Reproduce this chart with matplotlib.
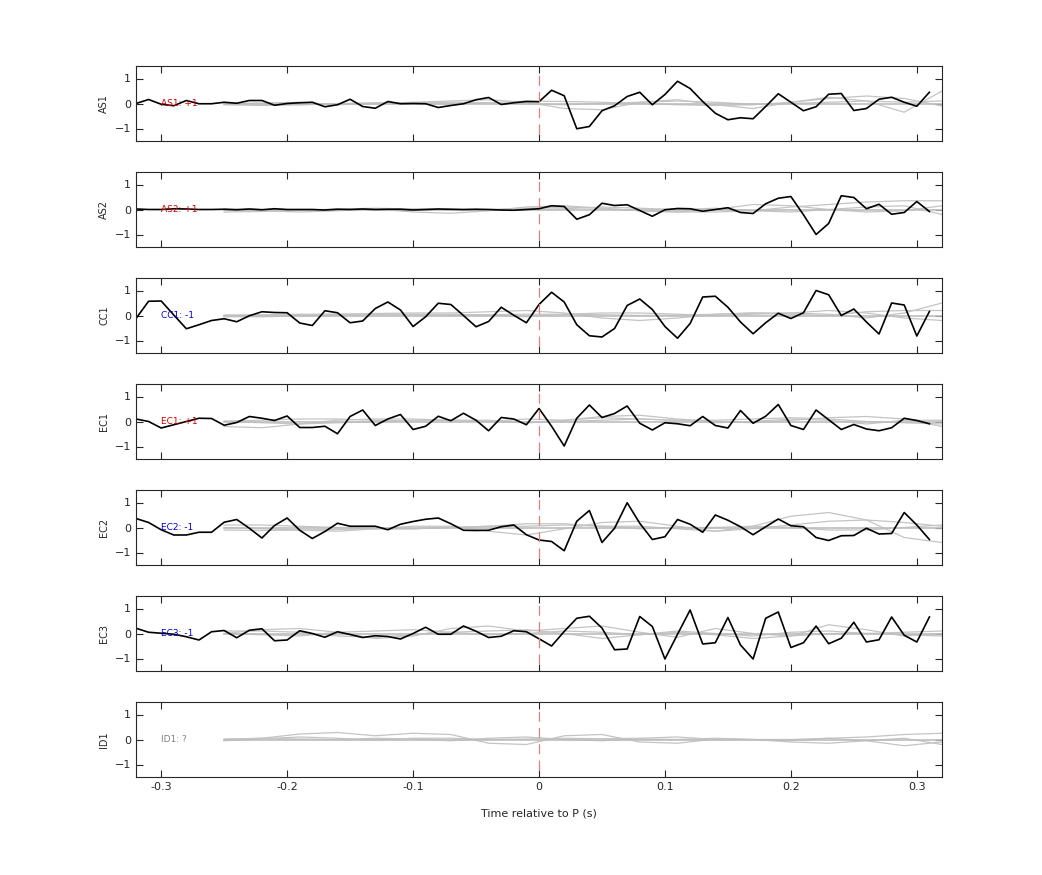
import numpy as np
import matplotlib
matplotlib.use("Agg")
import matplotlib.pyplot as plt

stations = ["AS1", "AS2", "CC1", "EC1", "EC2", "EC3", "ID1"]
polarity = ["AS1: +1", "AS2: +1", "CC1: -1", "EC1: +1", "EC2: -1", "EC3: -1", "ID1: ?"]
pol_colors = ["#d00000", "#d00000", "#0000d0", "#d00000", "#0000d0", "#0000d0", "#808080"]

t_start = -0.32
dt = 0.01

AS1 = [0, 0.16, -0.03, -0.09, 0.12, -0.01, -0.01, 0.05, 0.01, 0.12, 0.12, -0.07, 0, 0.03, 0.05, -0.13,
       -0.05, 0.17, -0.12, -0.19, 0.08, -0.01, 0, -0.01, -0.16, -0.08, -0.01, 0.15, 0.24, -0.04, 0.03, 0.08, 0.07,
       0.53, 0.31, -1.01, -0.92, -0.29, -0.09, 0.28, 0.45, -0.05, 0.36, 0.89, 0.6, 0.08, -0.39, -0.65, -0.57,
       -0.61, -0.12, 0.39, 0.05, -0.29, -0.13, 0.37, 0.4, -0.28, -0.2, 0.17, 0.25, 0.05, -0.11, 0.45]
AS2 = [0.02, 0, 0, 0.03, 0.02, 0, 0, 0.01, -0.01, 0.02, -0.01, 0.03, 0, 0, 0, -0.02, 0.01, 0, 0.02, 0,
       0.01, 0.01, -0.02, 0, 0.02, 0.01, 0, 0.01, 0, -0.02, -0.03, 0, 0.03,
       0.15, 0.12, -0.39, -0.21, 0.25, 0.16, 0.19, -0.04, -0.27, -0.01, 0.04, 0.03, -0.07, 0, 0.07, -0.12,
       -0.16, 0.23, 0.45, 0.52, -0.21, -1.0, -0.56, 0.55, 0.48, 0.03, 0.21, -0.19, -0.12, 0.32, -0.08]
CC1 = [-0.12, 0.57, 0.58, 0.02, -0.53, -0.37, -0.2, -0.13, -0.25, -0.01, 0.15, 0.12, 0.11, -0.3, -0.4, 0.19,
       0.11, -0.29, -0.22, 0.28, 0.54, 0.22, -0.44, -0.05, 0.49, 0.44, 0, -0.45, -0.24, 0.33, 0.01, -0.29,
       0.44, 0.93, 0.54, -0.37, -0.81, -0.86, -0.52, 0.4, 0.66, 0.24, -0.44, -0.91, -0.32, 0.74, 0.77, 0.33,
       -0.26, -0.73, -0.29, 0.09, -0.12, 0.11, 1.0, 0.83, 0, 0.26, -0.26, -0.74, 0.5, 0.42, -0.82, 0.16]
EC1 = [0.1, 0, -0.26, -0.13, 0, 0.13, 0.12, -0.15, -0.04, 0.2, 0.13, 0.04, 0.22, -0.24, -0.24, -0.19,
       -0.49, 0.2, 0.46, -0.16, 0.1, 0.28, -0.32, -0.19, 0.21, 0.03, 0.33, 0.05, -0.37, 0.16, 0.1, -0.13,
       0.52, -0.19, -0.98, 0.13, 0.66, 0.16, 0.32, 0.62, -0.07, -0.34, -0.05, -0.09, -0.17, 0.2, -0.16, -0.26,
       0.44, -0.07, 0.21, 0.68, -0.16, -0.32, 0.46, 0.07, -0.32, -0.12, -0.3, -0.37, -0.25, 0.13, 0.04, -0.09]
EC2 = [0.36, 0.2, -0.09, -0.3, -0.3, -0.19, -0.19, 0.21, 0.32, -0.03, -0.42, 0.08, 0.38, -0.11, -0.44, -0.16,
       0.17, 0.05, 0.05, 0.05, -0.09, 0.13, 0.24, 0.33, 0.38, 0.15, -0.11, -0.12, -0.11, 0.03, 0.1, -0.29,
       -0.5, -0.56, -0.93, 0.25, 0.68, -0.6, -0.03, 0.99, 0.17, -0.48, -0.37, 0.32, 0.13, -0.19, 0.5, 0.29,
       0.03, -0.29, 0.03, 0.34, 0.07, 0.03, -0.4, -0.52, -0.33, -0.32, -0.03, -0.26, -0.24, 0.6, 0.1, -0.48]
EC3 = [0.21, 0.05, 0.01, -0.03, -0.13, -0.26, 0.07, 0.12, -0.17, 0.13, 0.19, -0.29, -0.26, 0.11, 0, -0.15,
       0.07, -0.04, -0.16, -0.09, -0.12, -0.22, 0, 0.25, -0.03, -0.03, 0.3, 0.09, -0.16, -0.11, 0.11, 0.07,
       -0.21, -0.5, 0.08, 0.61, 0.69, 0.22, -0.65, -0.62, 0.68, 0.28, -1.02, -0.03, 0.94, -0.42, -0.37, 0.64,
       -0.46, -1.02, 0.61, 0.86, -0.56, -0.37, 0.3, -0.41, -0.19, 0.45, -0.34, -0.25, 0.66, -0.07, -0.34, 0.66]
black_traces = [AS1, AS2, CC1, EC1, EC2, EC3, None]

# grey (template) traces, sampled every 0.03 s from -0.25 s
g_start = -0.25
g_dt = 0.03
grey_traces = [
    [[0, 0.02, 0.05, -0.05, 0, 0.05, 0.1, 0.15, 0.05, -0.2, -0.25, 0.05, 0.15, -0.05, -0.2, 0.05, 0.25, 0.1, -0.35, 0.5],
     [0, -0.03, -0.05, -0.02, 0, 0.03, 0.05, 0.03, -0.02, -0.05, 0, 0.05, 0.1, 0.05, -0.03, 0, 0.05, 0.1, 0.05, 0.1],
     [-0.05, -0.08, -0.05, 0, 0.03, 0, -0.02, 0.02, 0.1, 0.08, 0.05, 0, -0.05, -0.08, -0.05, 0.05, 0.2, 0.3, 0.2, -0.1]],
    [[0, -0.05, -0.1, -0.05, 0.02, -0.1, -0.15, -0.05, 0.1, 0.15, 0.05, -0.05, -0.1, -0.1, -0.05, 0.1, 0.2, 0.3, 0.35, 0.35],
     [-0.1, -0.08, -0.03, 0.02, 0.05, 0.02, -0.03, 0, 0.05, 0.1, 0.05, -0.05, -0.1, 0, 0.2, 0.15, 0, -0.1, -0.05, 0.15],
     [0.02, 0, -0.02, 0, 0.02, 0.03, 0, -0.02, 0, 0.03, 0.1, 0.05, 0, 0.05, -0.05, -0.1, 0, 0.1, 0.15, -0.2]],
    [[0, 0.02, 0.05, 0.05, 0.08, 0.1, 0.1, 0.15, 0.2, 0.1, -0.1, -0.2, -0.1, 0.05, 0.1, 0.1, 0.05, -0.1, 0.1, 0.5],
     [-0.05, -0.05, -0.02, 0, 0.02, 0.05, 0.05, 0.02, -0.05, 0.05, 0.1, 0.1, 0.05, 0, 0.05, 0.1, 0.2, 0.1, -0.1, -0.2],
     [0.02, 0.02, 0.03, 0.05, 0.05, 0.03, 0, 0.03, 0.05, 0.05, 0.03, 0, 0.02, 0.05, 0.1, 0.05, 0, 0.15, 0.2, 0.2]],
    [[-0.2, -0.25, -0.1, 0.05, 0.1, 0.1, 0.05, 0, 0.1, 0.05, 0.2, 0.25, 0.1, 0, -0.05, 0.05, 0.15, 0.2, 0.1, -0.2],
     [0.02, 0.05, 0.1, 0.1, 0.05, 0.02, 0.05, 0.05, -0.05, 0.05, 0.15, 0.1, 0.05, 0.05, 0.1, 0.15, 0.1, 0, -0.05, -0.1],
     [0, -0.05, -0.1, -0.05, 0, 0.05, 0.05, 0, -0.05, 0, 0.05, 0.1, 0.05, -0.05, 0, 0.1, 0.05, -0.1, 0.05, 0.05]],
    [[0, -0.05, -0.1, -0.15, -0.05, 0.05, 0.05, -0.15, -0.3, -0.05, 0.2, 0.25, 0.05, -0.15, 0.05, 0.45, 0.6, 0.3, -0.4, -0.6],
     [-0.1, -0.12, -0.1, -0.08, -0.05, -0.05, 0, 0.05, 0.15, 0.15, 0.05, 0.05, -0.05, -0.15, -0.05, 0.1, 0.25, 0.3, 0.2, 0.05],
     [0.1, 0.1, 0.05, 0, -0.05, -0.05, 0, 0.05, 0.05, 0.1, 0.05, -0.05, 0, 0, 0.05, 0, -0.1, -0.1, 0, 0.1]],
    [[0, 0.15, 0.2, 0.05, -0.2, -0.1, 0.2, 0.3, 0.1, 0.2, 0.3, 0.05, -0.15, 0.2, 0, -0.1, 0.35, 0.15, -0.1, 0],
     [0, -0.05, -0.1, 0.05, 0.1, 0.15, 0.05, -0.05, 0, 0.1, 0.05, -0.05, 0.1, 0, -0.1, 0.05, 0.1, 0, -0.05, -0.1],
     [0.1, 0.1, 0.05, -0.1, -0.15, -0.05, 0.05, 0.1, 0.15, 0, -0.2, -0.05, 0.05, -0.05, -0.2, -0.1, 0, 0, 0.05, 0.1]],
    [[0, 0.05, 0.22, 0.28, 0.15, 0.25, 0.2, -0.15, -0.2, 0.15, 0.2, -0.1, -0.15, 0.02, 0, -0.1, -0.15, -0.05, 0.05, -0.2],
     [-0.05, 0.03, 0.1, 0.05, -0.02, 0.05, 0.05, 0, 0.02, 0.05, 0.03, 0.05, 0.1, 0, 0, -0.05, 0.05, -0.05, -0.25, -0.1],
     [0.02, 0.05, 0.02, 0, 0.05, 0.02, -0.05, 0.05, 0.1, 0, -0.05, 0.02, 0, 0.05, 0, 0, 0.05, 0.1, 0.2, 0.25]],
]

fig = plt.figure(figsize=(10.42, 8.75), dpi=100)
W, H = 1042, 875
left, right = 136 / W, 942 / W
tops = [66, 172, 278, 384, 490, 596, 702]
ph = 75
txt = "#262626"
for i, st in enumerate(stations):
    ax = fig.add_axes([left, 1 - (tops[i] + ph) / H, right - left, ph / H])
    for g in grey_traces[i]:
        tg = g_start + g_dt * np.arange(len(g))
        ax.plot(tg, g, color="#c4c4c4", lw=0.9)
    tz = g_start + g_dt * np.arange(20)
    ax.plot(tz, np.zeros_like(tz), color="#bdbdbd", lw=1.2)
    if black_traces[i] is not None:
        b = black_traces[i]
        tb = t_start + dt * np.arange(len(b))
        ax.plot(tb, b, color="black", lw=1.2)
    ax.axvline(0, ymin=0.1, ymax=0.95, color="#e08080", lw=0.9, ls=(0, (8, 5)))
    ax.text(-0.3, 0, polarity[i], color=pol_colors[i], fontsize=6.5, va="center", ha="left")
    ax.set_xlim(-0.32, 0.32)
    ax.set_ylim(-1.5, 1.5)
    ax.set_yticks([-1, 0, 1])
    ax.set_xticks([-0.3, -0.2, -0.1, 0, 0.1, 0.2, 0.3])
    ax.tick_params(direction="in", top=True, right=True, labelsize=8, colors=txt, length=5)
    ax.set_ylabel(st, fontsize=7, color=txt, labelpad=4)
    for s in ax.spines.values():
        s.set_color(txt)
    if i < len(stations) - 1:
        ax.set_xticklabels([])
    else:
        ax.set_xticklabels(["-0.3", "-0.2", "-0.1", "0", "0.1", "0.2", "0.3"])
        ax.set_xlabel("Time relative to P (s)", fontsize=8, color=txt, labelpad=12)

fig.savefig("out.png", dpi=100)
